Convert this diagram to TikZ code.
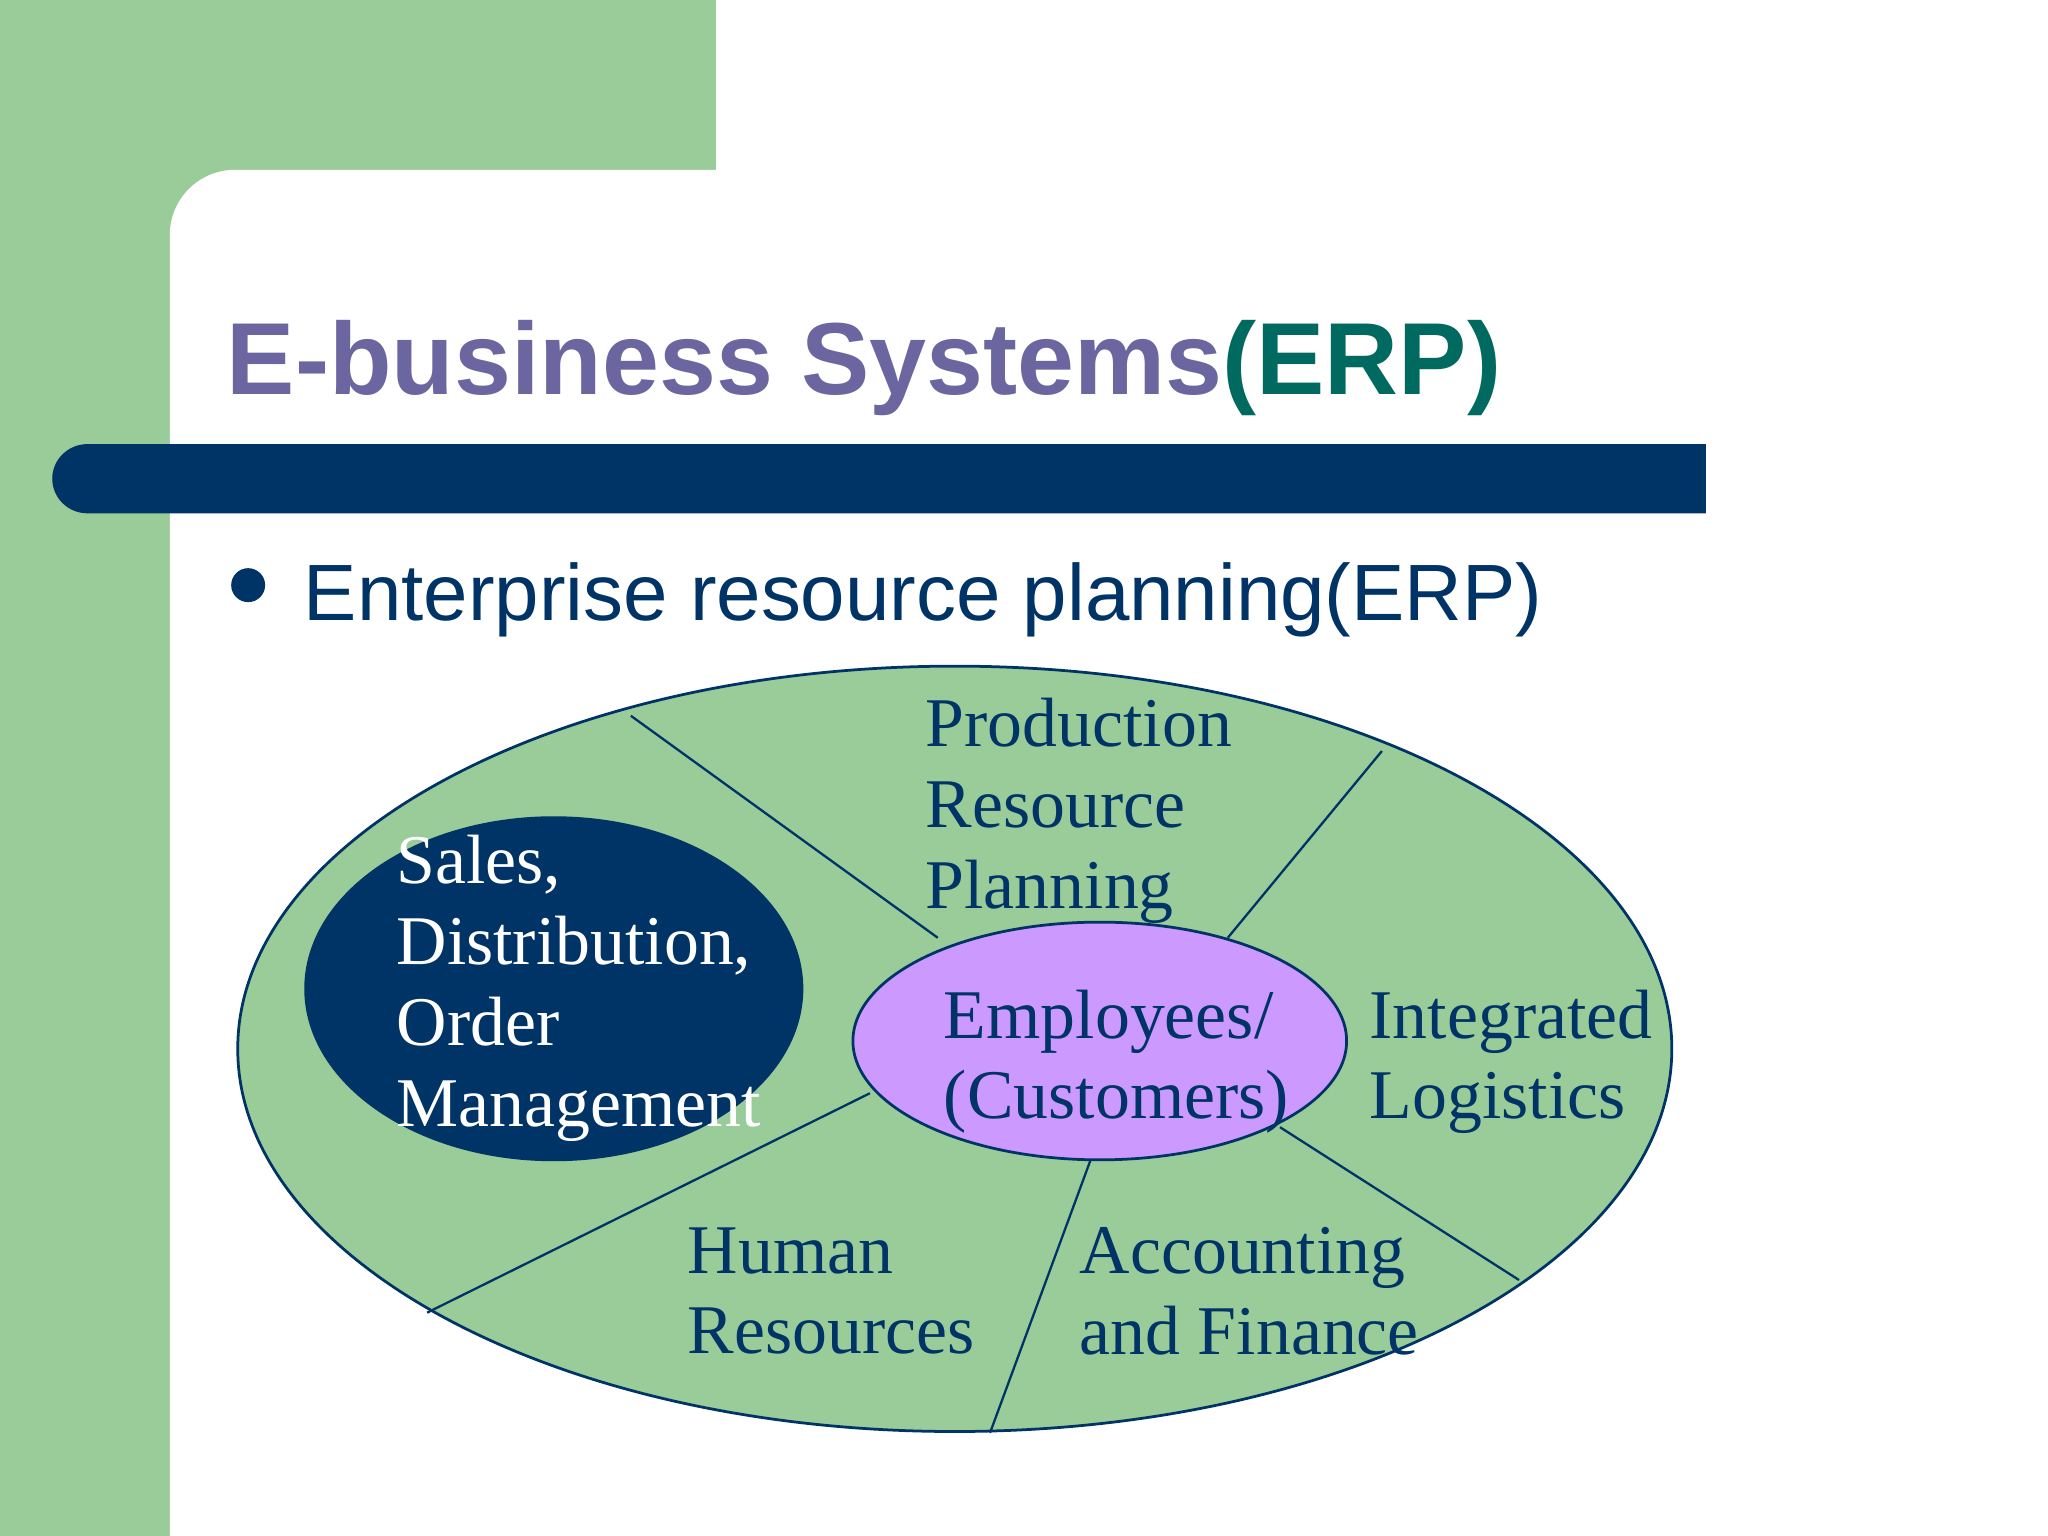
\documentclass[tikz,border=0pt]{standalone}
\usepackage{fontspec}
\setmainfont{Liberation Serif}
\setsansfont{Liberation Sans}
\usetikzlibrary{shapes.geometric}
\begin{document}
\begin{tikzpicture}[x=0.1mm,y=-0.1mm,
  lbl/.style={inner sep=0pt,anchor=north west,align=left,text=navy,font=\fontsize{15.2}{17.6}\selectfont},
  divl/.style={draw=navy,line width=0.5pt},
  ell/.style={draw=navy,ellipse,inner sep=0pt,line width=0.6pt}]
\definecolor{navy}{RGB}{0,51,102}
\definecolor{lgreen}{RGB}{153,204,153}
\definecolor{ttl}{RGB}{107,102,160}
\definecolor{teal2}{RGB}{0,106,96}
\definecolor{lilac}{RGB}{204,153,255}
\useasboundingbox (0,0) rectangle (1568,1176);
\fill[lgreen] (0,0) rectangle (548,200);
\fill[lgreen] (0,0) rectangle (130,1176);
\fill[white,rounded corners=5mm] (130,130) rectangle (1700,1300);
% title
\node[inner sep=0pt,anchor=base west,font=\sffamily\bfseries\fontsize{22.3}{26}\selectfont] (title) at (173,302) {\textcolor{ttl}{E-business Systems}\textcolor{teal2}{(ERP)}};
% bar
\fill[navy] (1306,340) -- (67,340) arc[start angle=90,end angle=270,x radius=27,y radius=-26.5] -- (1306,393) -- cycle;
% bullet
\fill[navy] (190,448) circle (13);
\node[inner sep=0pt,anchor=base west,text=navy,font=\sffamily\fontsize{17.4}{21}\selectfont] (bul) at (232,475) {Enterprise resource planning(ERP)};
% ellipses
\node[ell,fill=lgreen,minimum width=109.8mm,minimum height=58.6mm] (big) at (731,803) {};
\node[ell,fill=navy,minimum width=38mm,minimum height=26.2mm] (sales) at (424,757) {};
% dividers
\coordinate (a1) at (483,548); \coordinate (a2) at (718,718);
\coordinate (b1) at (1058,575); \coordinate (b2) at (940,718);
\coordinate (c1) at (666,837); \coordinate (c2) at (327,1005);
\coordinate (d1) at (835,888); \coordinate (d2) at (758,1097);
\coordinate (e1) at (980,863); \coordinate (e2) at (1163,980);
\draw[divl] (a1) -- (a2);
\draw[divl] (b1) -- (b2);
\draw[divl] (c1) -- (c2);
\draw[divl] (d1) -- (d2);
\draw[divl] (e1) -- (e2);
\node[ell,fill=lilac,minimum width=37.8mm,minimum height=18.2mm] (emp) at (842,797) {};
% labels
\node[lbl] (prod) at (708,534) {Production\\Resource\\Planning};
\node[lbl,text=white] (sl) at (303,639) {Sales,\\Distribution,\\Order\\Management};
\node[lbl] (el) at (722,757) {Employees/\\(Customers)};
\node[lbl] (il) at (1048,757) {Integrated\\Logistics};
\node[lbl] (hl) at (526,939) {Human\\Resources};
\node[lbl] (al) at (826,939) {Accounting\\and Finance};
\end{tikzpicture}
\end{document}
